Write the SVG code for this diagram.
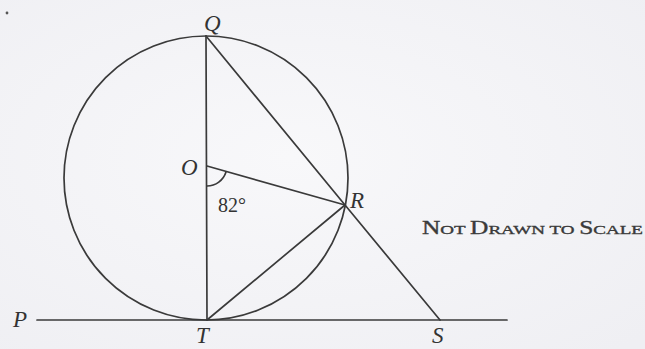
<svg xmlns="http://www.w3.org/2000/svg" width="645" height="349" viewBox="0 0 645 349">
  <defs>
    <radialGradient id="bg" cx="0.45" cy="0.45" r="0.75">
      <stop offset="0" stop-color="#f8f8fa"/>
      <stop offset="1" stop-color="#efeff3"/>
    </radialGradient>
  </defs>
  <style>
    .ln { stroke: #3a3a3a; stroke-width: 1.7; fill: none; stroke-linecap: round; }
    .lbl { font-family: "Liberation Serif", "DejaVu Serif", serif; font-style: italic; font-size: 23px; fill: #333; }
    .ang { font-family: "Liberation Serif", "DejaVu Serif", serif; font-size: 20px; fill: #333; }
    .note { font-family: "Liberation Serif", "DejaVu Serif", serif; fill: #3a3a3a; stroke: #3a3a3a; stroke-width: 0.35; }
  </style>
  <rect x="0" y="0" width="645" height="349" fill="url(#bg)"/>
  <circle cx="7" cy="13" r="1.4" fill="#555"/>

  <circle id="circle" class="ln" cx="206" cy="178" r="142"/>

  <g id="connectors">
    <line class="ln" x1="37" y1="320" x2="507" y2="320"/>
    <line class="ln" x1="206" y1="36" x2="207" y2="320"/>
    <line class="ln" x1="206" y1="36" x2="345" y2="205"/>
    <line class="ln" x1="207" y1="166" x2="345" y2="205"/>
    <line class="ln" x1="207" y1="320" x2="345" y2="205"/>
    <line class="ln" x1="345" y1="205" x2="440" y2="320"/>
    <path class="ln" d="M207 186 A20 20 0 0 0 226 172"/>
  </g>

  <g id="Q"><text class="lbl" x="204" y="31">Q</text></g>
  <g id="O"><text class="lbl" x="181" y="175">O</text></g>
  <g id="R"><text class="lbl" x="350" y="208">R</text></g>
  <g id="T"><text class="lbl" x="196" y="343">T</text></g>
  <g id="P"><text class="lbl" x="13" y="327">P</text></g>
  <g id="S"><text class="lbl" x="432" y="343">S</text></g>
  <g id="angle"><text class="ang" x="218" y="212">82°</text></g>

  <g id="note">
    <text class="note" x="422" y="234" textLength="221" lengthAdjust="spacingAndGlyphs"><tspan font-size="18">N</tspan><tspan font-size="13.5">OT </tspan><tspan font-size="18">D</tspan><tspan font-size="13.5">RAWN TO </tspan><tspan font-size="18">S</tspan><tspan font-size="13.5">CALE</tspan></text>
  </g>
</svg>
